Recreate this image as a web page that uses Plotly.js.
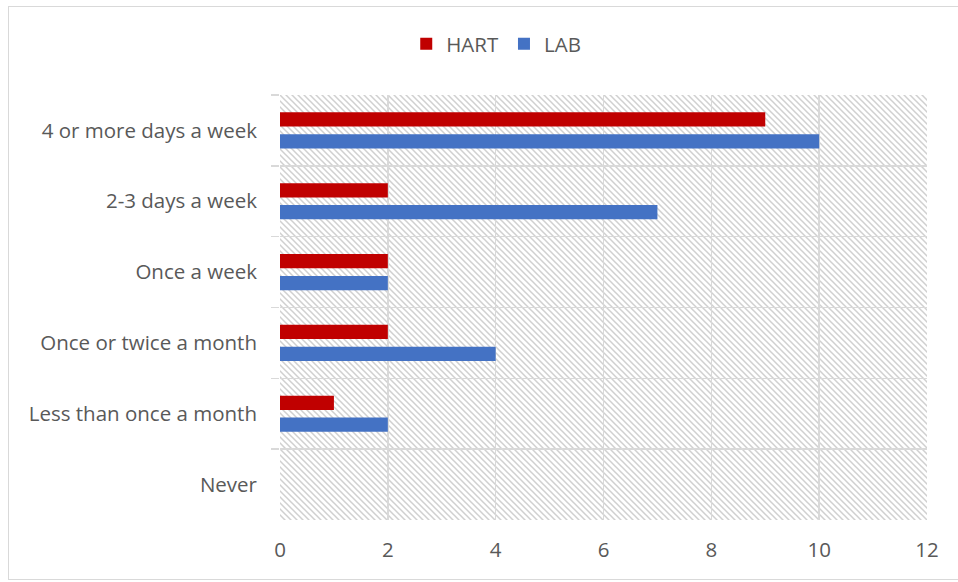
<!DOCTYPE html>
<html>
<head>
<meta charset="utf-8">
<script src="https://cdn.plot.ly/plotly-3.0.1.min.js"></script>
<style>
  html, body { margin: 0; padding: 0; background: #ffffff; }
  #wrap { position: relative; width: 958px; height: 582px; }
  #chart { width: 958px; height: 582px; }
  #frame { position: absolute; left: 8px; top: 6px; width: 960px; height: 574px;
           border: 1.5px solid #d9d9d9; pointer-events: none; box-sizing: border-box; }
</style>
</head>
<body>
<div id="wrap">
  <div id="chart"></div>
  <div id="frame"></div>
</div>
<script>
const categories = ["4 or more days a week", "2-3 days a week", "Once a week",
                    "Once or twice a month", "Less than once a month", "Never"];
const hartValues = [9, 2, 2, 2, 1, 0];
const labValues  = [10, 7, 2, 4, 2, 0];
const xTickValues = [0, 2, 4, 6, 8, 10, 12];
const seriesNames = ["HART", "LAB"];

const W = 958, H = 582;
const margin = {l: 280, r: 31, t: 95, b: 62};
const pw = W - margin.l - margin.r, ph = H - margin.t - margin.b;

// hatched plot-area background (downward diagonal)
const svg = `<svg xmlns="http://www.w3.org/2000/svg" width="${pw}" height="${ph}">` +
  `<defs><pattern id="p" width="6" height="6" patternUnits="userSpaceOnUse">` +
  `<rect width="6" height="6" fill="#ffffff"/>` +
  `<path d="M-2,-2 L8,8 M-2,4 L2,8 M4,-2 L8,2" stroke="#d0d0d0" stroke-width="1.5"/>` +
  `</pattern></defs><rect width="${pw}" height="${ph}" fill="url(#p)"/></svg>`;
const bgUri = "data:image/svg+xml;charset=utf-8," + encodeURIComponent(svg);

const fontFam = "'Open Sans', 'Noto Sans', sans-serif";
const grey = "#595959";
const gridC = "#d9d9d9";
const fs = 20.5;

const traces = [
  {type: "bar", orientation: "h", name: seriesNames[0], y: categories, x: hartValues,
   marker: {color: "#C00000"}},
  {type: "bar", orientation: "h", name: seriesNames[1], y: categories, x: labValues,
   marker: {color: "#4472C4"}}
];

const layout = {
  width: W, height: H,
  margin: margin,
  paper_bgcolor: "rgba(0,0,0,0)",
  plot_bgcolor: "rgba(0,0,0,0)",
  barmode: "group",
  bargap: 0.38,
  bargroupgap: 0.35,
  font: {family: fontFam, size: fs, color: grey},
  showlegend: true,
  legend: {orientation: "h", xref: "container", yref: "container",
           x: 0.518, xanchor: "center", y: 1 - 44/582, yanchor: "middle",
           font: {family: fontFam, size: fs, color: grey}, itemwidth: 30, traceorder: "normal"},
  xaxis: {range: [0, 12], tickvals: xTickValues, showgrid: true, gridcolor: gridC, gridwidth: 1.5,
          zeroline: false, showline: false, ticks: "", ticklabelstandoff: 15,
          tickfont: {family: fontFam, size: fs, color: grey}, fixedrange: true},
  yaxis: {type: "category", categoryarray: categories, categoryorder: "array",
          range: [5.5, -0.5], tickson: "boundaries", showgrid: true, gridcolor: gridC, gridwidth: 1.5,
          ticks: "outside", ticklen: 8, tickwidth: 1.5, tickcolor: gridC, showline: false,
          ticklabelstandoff: 22, tickfont: {family: fontFam, size: fs, color: grey}, fixedrange: true},
  images: [{source: bgUri, xref: "paper", yref: "paper", x: 0, y: 1, sizex: 1, sizey: 1,
            xanchor: "left", yanchor: "top", sizing: "stretch", layer: "below"}]
};

Plotly.newPlot("chart", traces, layout, {displayModeBar: false, staticPlot: true});
</script>
</body>
</html>
